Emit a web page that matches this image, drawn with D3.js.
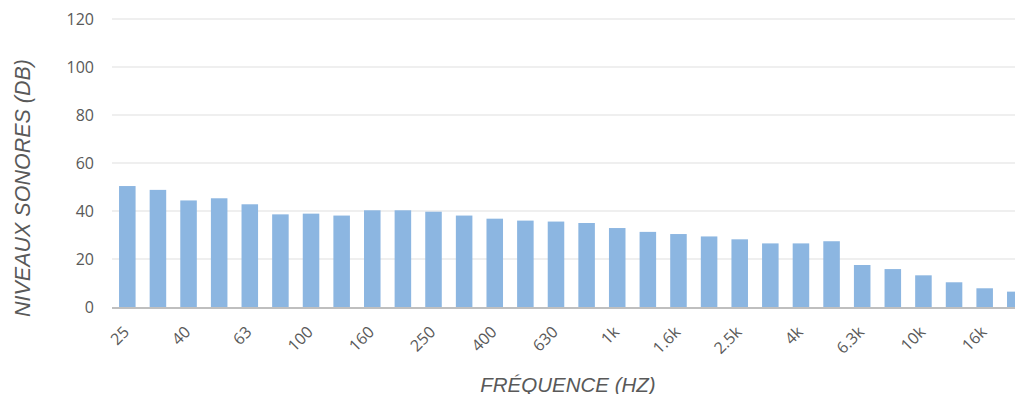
<!DOCTYPE html>
<html><head><meta charset="utf-8">
<script src="https://cdn.jsdelivr.net/npm/d3@7"></script>
<style>body{margin:0;background:#fff}svg{display:block}</style>
</head><body>
<script>
const categories = ["25","31.5","40","50","63","80","100","125","160","200","250","315","400","500","630","800","1k","1.25k","1.6k","2k","2.5k","3.15k","4k","5k","6.3k","8k","10k","12.5k","16k","20k"];
const levels = [50.4,48.8,44.4,45.3,42.8,38.6,38.9,38.1,40.3,40.3,39.7,38.1,36.8,36.0,35.6,35.0,32.9,31.3,30.4,29.4,28.2,26.5,26.5,27.4,17.5,15.8,13.2,10.3,7.8,6.4];
const shownLabels = ["25","40","63","100","160","250","400","630","1k","1.6k","2.5k","4k","6.3k","10k","16k"];
const yTicks = [0,20,40,60,80,100,120];

const W = 1015, H = 394;
const svg = d3.select("body").append("svg").attr("width", W).attr("height", H);
const x = d3.scaleBand().domain(categories).range([112, 1030.6]).paddingInner(0.46).paddingOuter(0.23);
const y = d3.scaleLinear().domain([0,120]).range([307, 19]);

// gridlines
svg.append("g").selectAll("line").data(yTicks.filter(d=>d>0)).join("line")
  .attr("x1",112).attr("x2",W).attr("y1",d=>y(d)).attr("y2",d=>y(d))
  .attr("stroke","#efefef").attr("stroke-width",2);

// y axis labels
const yAxis = d3.axisLeft(y).tickValues(yTicks).tickSize(0).tickPadding(0);
const gy = svg.append("g").attr("transform","translate(94,0)").call(yAxis);
gy.select(".domain").remove();
gy.selectAll("text").attr("fill","#595959").style("font-family","'Open Sans', sans-serif").style("font-size","16px");

// bars
svg.append("g").selectAll("rect").data(levels).join("rect")
  .attr("x",(d,i)=>x(categories[i])).attr("width",x.bandwidth())
  .attr("y",d=>y(d)).attr("height",d=>y(0)-y(d))
  .attr("fill","#8cb6e1");

// x axis
const xAxis = d3.axisBottom(x).tickValues(shownLabels).tickSize(0).tickPadding(0);
const gx = svg.append("g").attr("transform","translate(0,307)").call(xAxis);
gx.select(".domain").remove();
gx.selectAll("text")
  .attr("fill","#595959").style("font-family","'Open Sans', sans-serif").style("font-size","16px")
  .attr("text-anchor","end").attr("dy",null).attr("y",null)
  .attr("transform","translate(3,26) rotate(-45)");
svg.append("line").attr("x1",112).attr("x2",W).attr("y1",308).attr("y2",308)
  .attr("stroke","#bfbfbf").attr("stroke-width",2);

// titles
svg.append("text").attr("x",568).attr("y",392).attr("text-anchor","middle")
  .attr("fill","#595959").style("font-family","'Liberation Sans', Arial, sans-serif")
  .style("font-size","20.5px").style("font-style","italic").text("FRÉQUENCE (HZ)");
svg.append("text").attr("transform","translate(30,188) rotate(-90)").attr("text-anchor","middle")
  .attr("fill","#595959").style("font-family","'Liberation Sans', Arial, sans-serif")
  .style("font-size","21.5px").style("font-style","italic").text("NIVEAUX SONORES (DB)");
</script>
</body></html>
